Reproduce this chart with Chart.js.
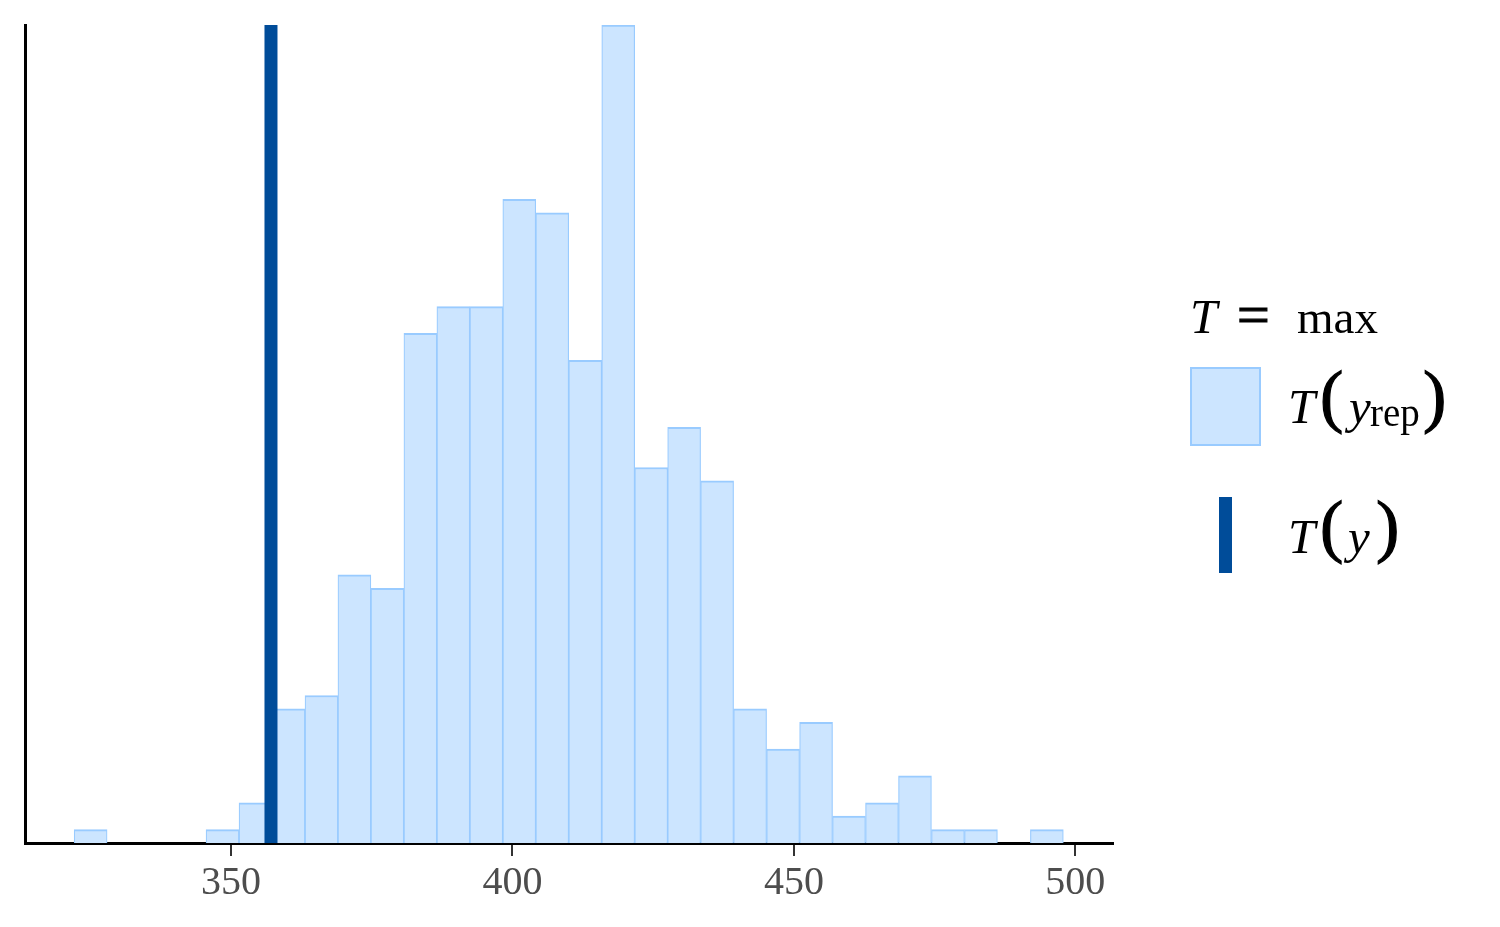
<!DOCTYPE html>
<html>
<head>
<meta charset="utf-8">
<title>T = max</title>
<script src="https://cdn.jsdelivr.net/npm/chart.js@4.4.1/dist/chart.umd.min.js"></script>
<style>
  html, body { margin: 0; padding: 0; background: #fff; }
  #wrap { position: relative; width: 1500px; height: 927px; font-family: "Liberation Serif", "Times New Roman", serif; }
  #chart-stat { position: absolute; left: 0; top: 0; }
  .lg { position: absolute; color: #000; line-height: 1; white-space: nowrap; }
  .it { font-style: italic; }
  .paren { -webkit-text-stroke: 1.2px #000; }
  #key-rep { position: absolute; left: 1190px; top: 367px; width: 71px; height: 79px; box-sizing: border-box;
             background: #cce5ff; border: 2px solid #99cbff; }
  #key-obs { position: absolute; left: 1219px; top: 497px; width: 13px; height: 76px; background: #004c99; }
</style>
</head>
<body>
<div id="wrap">
  <canvas id="chart-stat" width="1500" height="927"></canvas>

  <!-- legenda -->
  <span class="lg it" data-x="1190" data-b="333" data-s="49">T</span>
  <span class="lg paren" data-x="1237" data-b="335" data-s="58">=</span>
  <span class="lg" data-x="1297" data-b="333" data-s="47">max</span>

  <div id="key-rep"></div>
  <span class="lg it" data-x="1288" data-b="423" data-s="49">T</span>
  <span class="lg paren" data-x="1320" data-b="420" data-s="70">(</span>
  <span class="lg it" data-x="1349" data-b="423" data-s="49">y</span>
  <span class="lg" data-x="1370" data-b="426" data-s="39">rep</span>
  <span class="lg paren" data-x="1423" data-b="420" data-s="70">)</span>

  <div id="key-obs"></div>
  <span class="lg it" data-x="1288" data-b="553" data-s="49">T</span>
  <span class="lg paren" data-x="1320" data-b="550" data-s="70">(</span>
  <span class="lg it" data-x="1348" data-b="553" data-s="49">y</span>
  <span class="lg paren" data-x="1376" data-b="550" data-s="70">)</span>
</div>

<script>
// Distribuição de T(y_rep) = max, com a estatística observada T(y)

// centros dos 30 bins do histograma
const binCenters = [325.06, 330.92, 336.78, 342.63, 348.49, 354.35, 360.21, 366.07, 371.92, 377.78,
                    383.64, 389.50, 395.36, 401.21, 407.07, 412.93, 418.79, 424.65, 430.50, 436.36,
                    442.22, 448.08, 453.94, 459.79, 465.65, 471.51, 477.37, 483.23, 489.08, 494.94];
// contagens por bin (500 réplicas)
const binCounts = [1, 0, 0, 0, 1, 3, 10, 11, 20, 19,
                   38, 40, 40, 48, 47, 36, 61, 28, 31, 27,
                   10, 7, 9, 2, 3, 5, 1, 1, 0, 1];
// valor observado T(y)
const observedStat = 357.1;
// marcas do eixo x
const xTicks = [350, 400, 450, 500];
const xRange = [313.4, 506.69];
const yRange = [0, 61];

// posiciona os pedaços da legenda pela linha de base
document.querySelectorAll('.lg').forEach(el => {
  const s = +el.dataset.s;
  el.style.fontSize = s + 'px';
  el.style.left = el.dataset.x + 'px';
  el.style.top = (+el.dataset.b - 0.8375 * s) + 'px';
});

const colors = {
  fill: '#cce5ff',
  edge: '#99cbff',
  dark: '#004c99',
  axis: '#000000',
  tick: '#333333',
  tickText: '#4d4d4d'
};

const ctx = document.getElementById('chart-stat');

new Chart(ctx, {
  type: 'bar',
  data: {
    datasets: [
      {
        type: 'line',
        label: 'T(y)',
        data: [{ x: observedStat, y: yRange[0] }, { x: observedStat, y: yRange[1] }],
        borderColor: colors.dark,
        borderWidth: 13,
        borderCapStyle: 'butt',
        pointRadius: 0,
        order: 1
      },
      {
        type: 'bar',
        label: 'T(y_rep)',
        data: binCenters.map((x, i) => ({ x: x, y: binCounts[i] })),
        backgroundColor: colors.fill,
        borderColor: colors.edge,
        borderWidth: { top: 2, left: 1.2, right: 1.2, bottom: 0 },
        barPercentage: 1,
        categoryPercentage: 1,
        grouped: false,
        order: 2
      }
    ]
  },
  options: {
    responsive: false,
    animation: false,
    events: [],
    layout: { padding: { left: 25, right: 387, top: 25, bottom: 0 } },
    plugins: {
      legend: { display: false },
      tooltip: { enabled: false }
    },
    scales: {
      x: {
        type: 'linear',
        min: xRange[0],
        max: xRange[1],
        offset: false,
        z: 1,
        afterFit(scale) { scale.height = 84; },
        afterBuildTicks(scale) { scale.ticks = xTicks.map(v => ({ value: v })); },
        grid: { display: true, drawOnChartArea: false, drawTicks: true, tickLength: 13, color: colors.tick, lineWidth: 2, offset: false },
        border: { display: true, color: colors.axis, width: 3 },
        ticks: {
          color: colors.tickText,
          font: { family: 'Liberation Serif', size: 40, lineHeight: 1 },
          padding: 7,
          maxRotation: 0,
          autoSkip: false
        }
      },
      y: {
        min: yRange[0],
        max: yRange[1],
        z: 1,
        afterFit(scale) { scale.width = 0; },
        ticks: { display: false },
        grid: { display: false },
        border: { display: true, color: colors.axis, width: 3 }
      }
    }
  }
});
</script>
</body>
</html>
